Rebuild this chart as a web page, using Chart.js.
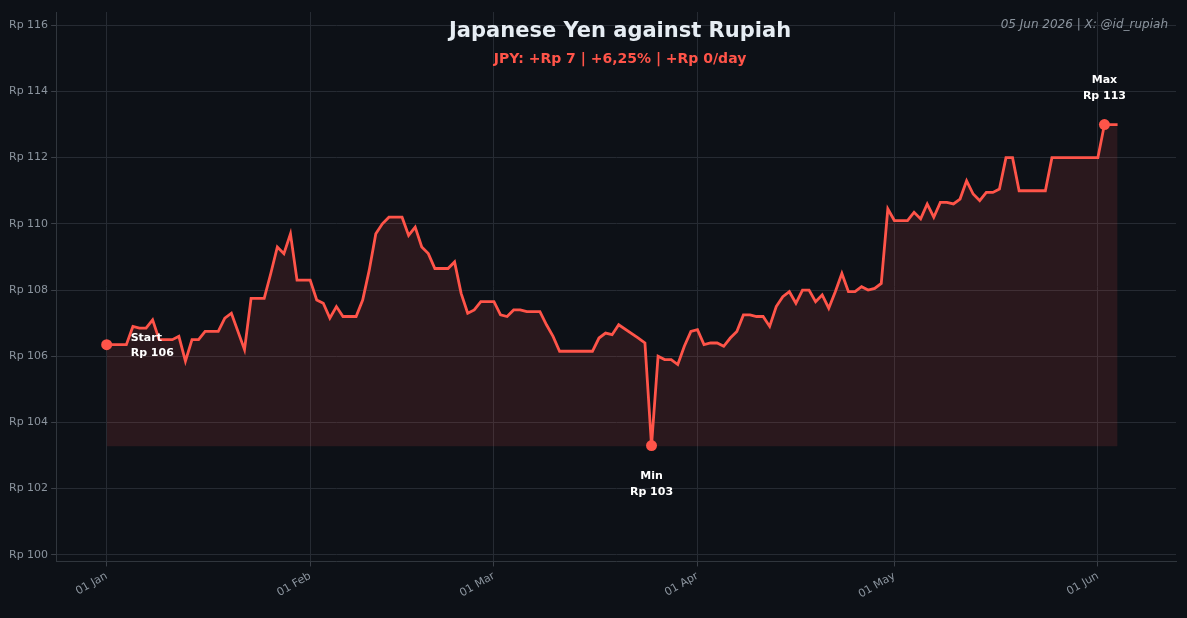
<!DOCTYPE html>
<html>
<head>
<meta charset='utf-8' />
<title>JPY vs Rupiah</title>
<script src="https://cdn.jsdelivr.net/npm/chart.js"></script>
<style>
body { margin:0; padding:0; background:#0d1117; }
#wrap { width:1187px; height:618px; }
</style>
</head>
<body>
<div id="wrap"><canvas id="jpyChart" width="1187" height="618"></canvas></div>
<script>

// day index from 01 Jan 2026
const days = [0,3,4,5,6,7,8,10,11,12,13,14,15,17,18,19,21,22,24,25,26,27,28,29,31,32,33,34,35,36,38,39,40,41,42,43,45,46,47,48,49,50,52,53,54,55,56,57,59,60,61,62,63,64,66,67,68,69,74,75,76,77,78,81,82,83,84,85,86,87,88,89,90,91,92,93,94,95,96,97,98,99,100,101,102,103,104,105,106,107,108,109,110,111,112,113,114,115,116,117,118,119,120,122,123,124,125,126,127,128,129,130,131,132,133,134,135,136,137,138,139,143,144,151,152,153,154];
const rates = [106.35,106.35,106.9,106.85,106.85,107.1,106.5,106.5,106.6,105.85,106.5,106.5,106.75,106.75,107.15,107.3,106.2,107.75,107.75,108.5,109.3,109.1,109.7,108.3,108.3,107.7,107.6,107.15,107.5,107.2,107.2,107.7,108.6,109.7,110.0,110.2,110.2,109.65,109.9,109.3,109.1,108.65,108.65,108.85,107.9,107.3,107.4,107.65,107.65,107.25,107.2,107.4,107.4,107.35,107.35,106.95,106.6,106.15,106.15,106.55,106.7,106.65,106.95,106.55,106.4,103.3,106.0,105.9,105.9,105.75,106.3,106.75,106.8,106.35,106.4,106.4,106.3,106.55,106.75,107.25,107.25,107.2,107.2,106.9,107.5,107.8,107.95,107.6,108.0,108.0,107.65,107.85,107.45,107.95,108.5,107.95,107.95,108.1,108.0,108.05,108.2,110.45,110.1,110.1,110.35,110.15,110.6,110.2,110.65,110.65,110.6,110.75,111.3,110.9,110.7,110.95,110.95,111.05,112.0,112.0,111.0,111.0,112.0,112.0,113.0,113.0,113.0];

const monthTicks = [0,31,59,90,120,151];
const monthLabels = ['01 Jan','01 Feb','01 Mar','01 Apr','01 May','01 Jun'];
const yTicks = [100,102,104,106,108,110,112,114,116];

const marks = [
  {day:0, value:106.35, label:['Start','Rp 106'], pos:'right'},
  {day:83, value:103.3, label:['Min','Rp 103'], pos:'below'},
  {day:152, value:113.0, label:['Max','Rp 113'], pos:'above'}
];

const lineColor = '#ff5449';
const points = days.map((d, i) => ({x: d, y: rates[i]}));

const overlay = {
  id: 'overlay',
  afterDatasetsDraw(chart) {
    const ctx = chart.ctx;
    const xs = chart.scales.x, ys = chart.scales.y;
    ctx.save();
    marks.forEach(m => {
      const px = xs.getPixelForValue(m.day), py = ys.getPixelForValue(m.value);
      ctx.fillStyle = lineColor;
      ctx.beginPath(); ctx.arc(px, py, 5.5, 0, Math.PI*2); ctx.fill();
      ctx.fillStyle = '#ffffff';
      ctx.font = 'bold 11px "DejaVu Sans"';
      if (m.pos === 'right') {
        ctx.textAlign = 'left';
        ctx.fillText(m.label[0], px + 24, py - 4);
        ctx.fillText(m.label[1], px + 24, py + 11);
      } else if (m.pos === 'below') {
        ctx.textAlign = 'center';
        ctx.fillText(m.label[0], px, py + 33);
        ctx.fillText(m.label[1], px, py + 49);
      } else {
        ctx.textAlign = 'center';
        ctx.fillText(m.label[0], px, py - 42);
        ctx.fillText(m.label[1], px, py - 26);
      }
    });
    const cx = (chart.chartArea.left + chart.chartArea.right) / 2;
    ctx.textAlign = 'center';
    ctx.fillStyle = '#e6edf3';
    ctx.font = 'bold 21px "DejaVu Sans"';
    ctx.fillText('Japanese Yen against Rupiah', cx + 4, 37);
    ctx.fillStyle = lineColor;
    ctx.font = 'bold 14px "DejaVu Sans"';
    ctx.fillText('JPY: +Rp 7 | +6,25% | +Rp 0/day', cx + 4, 63);
    ctx.textAlign = 'right';
    ctx.fillStyle = '#8b949e';
    ctx.font = 'italic 12px "DejaVu Sans"';
    ctx.fillText('05 Jun 2026 | X: @id_rupiah', chart.chartArea.right - 8, 28);
    ctx.restore();
  }
};

new Chart(document.getElementById('jpyChart'), {
  type: 'line',
  data: {
    datasets: [{
      data: points,
      borderColor: lineColor,
      borderWidth: 2.8,
      pointRadius: 0,
      tension: 0,
      fill: {value: 103.28},
      backgroundColor: 'rgba(255,84,73,0.12)'
    }]
  },
  options: {
    responsive: false,
    animation: false,
    devicePixelRatio: 1,
    layout: {padding: {left: 6, right: 11, top: 12, bottom: 14}},
    plugins: {legend: {display: false}, tooltip: {enabled: false}},
    scales: {
      x: {
        type: 'linear', min: -7.7, max: 162.9,
        afterBuildTicks: axis => { axis.ticks = monthTicks.map(v => ({value: v})); },
        ticks: {
          color: '#8b949e', font: {family: 'DejaVu Sans', size: 11},
          maxRotation: 30, minRotation: 30,
          callback: v => monthLabels[monthTicks.indexOf(v)]
        },
        grid: {color: '#262b33', tickColor: '#3a3f47', tickLength: 5},
        border: {color: '#30363d'}
      },
      y: {
        min: 99.8, max: 116.4,
        afterBuildTicks: axis => { axis.ticks = yTicks.map(v => ({value: v})); },
        ticks: {
          color: '#8b949e', font: {family: 'DejaVu Sans', size: 11},
          callback: v => 'Rp ' + v
        },
        grid: {color: '#262b33', tickColor: '#3a3f47', tickLength: 5},
        border: {color: '#30363d'}
      }
    }
  },
  plugins: [overlay]
});
</script>
</body>
</html>
